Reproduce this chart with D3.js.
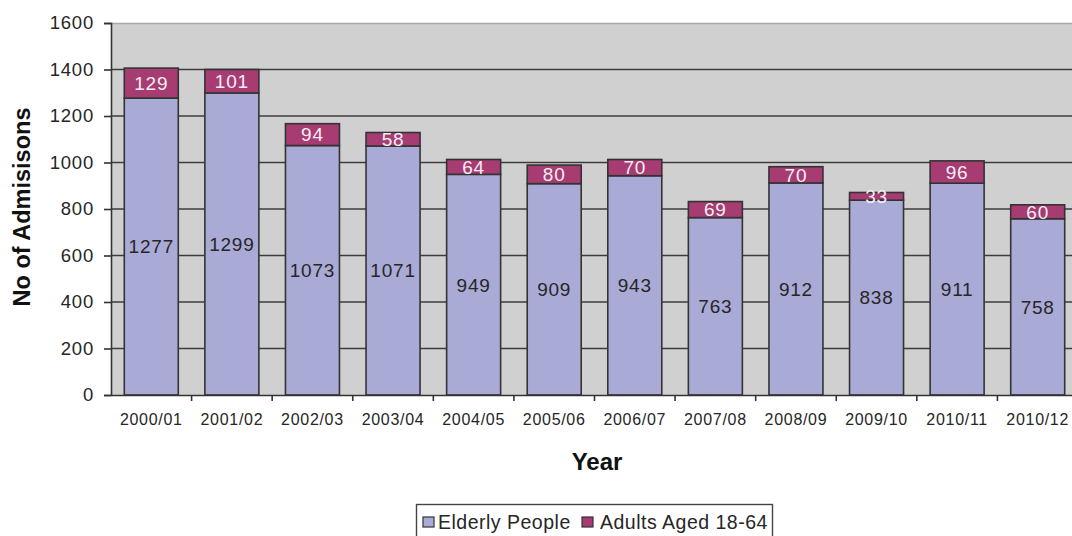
<!DOCTYPE html>
<html><head><meta charset="utf-8">
<script src="https://cdn.jsdelivr.net/npm/d3@7"></script>
<style>body{margin:0;background:#fff;} svg{display:block;font-family:"Liberation Sans",Arial,sans-serif;}</style>
</head><body>
<svg id="chart" width="1072" height="536"></svg>
<script>
const years = ["2000/01","2001/02","2002/03","2003/04","2004/05","2005/06","2006/07","2007/08","2008/09","2009/10","2010/11","2010/12"];
const elderly = [1277,1299,1073,1071,949,909,943,763,912,838,911,758];
const adults = [129,101,94,58,64,80,70,69,70,33,96,60];
const yTicks = [0,200,400,600,800,1000,1200,1400,1600];
const seriesNames = ["Elderly People","Adults Aged 18-64"];
const colors = ["#aaaad6","#a63c72"];

(function(){
const FF = "Liberation Sans, Arial, sans-serif";
const svg = d3.select("#chart");
const pL = 111, pT = 23, pB = 395, pR = 1078;
const x = d3.scaleBand().domain(years).range([pL, pR]).paddingInner(0.33).paddingOuter(0.165);
const y = d3.scaleLinear().domain([0,1600]).range([pB, pT]);

svg.append("rect").attr("x", pL).attr("y", pT).attr("width", pR-pL).attr("height", pB-pT).attr("fill", "#d0d0d0");
svg.append("line").attr("x1", pL).attr("x2", pR).attr("y1", pT+0.5).attr("y2", pT+0.5).attr("stroke", "#a8a8a8").attr("stroke-width", 1.5);

svg.append("g").selectAll("line").data(yTicks.filter(d => d > 0 && d < 1600)).join("line")
  .attr("x1", pL).attr("x2", pR).attr("y1", d => y(d)).attr("y2", d => y(d))
  .attr("stroke", "#3c3c3c").attr("stroke-width", 1.7);

const stackData = years.map((yr, i) => ({year: yr, e: elderly[i], a: adults[i]}));
const stack = d3.stack().keys(["e","a"])(stackData);

const g = svg.append("g");
stack.forEach((layer, li) => {
  g.append("g").selectAll("rect").data(layer).join("rect")
    .attr("x", d => x(d.data.year)).attr("width", x.bandwidth())
    .attr("y", d => y(d[1])).attr("height", d => y(d[0]) - y(d[1]))
    .attr("fill", colors[li]).attr("stroke", "#333").attr("stroke-width", 1.6);
});
stack.forEach((layer, li) => {
  g.append("g").selectAll("text").data(layer).join("text")
    .attr("x", d => x(d.data.year) + x.bandwidth()/2)
    .attr("y", d => (y(d[0]) + y(d[1]))/2)
    .attr("dy", "0.36em").attr("text-anchor", "middle")
    .attr("font-size", 19).attr("letter-spacing", 0.8)
    .attr("fill", li === 0 ? "#262626" : "#f4eef2")
    .text(d => d[1] - d[0]);
});

const yAxis = svg.append("g").attr("transform", `translate(${pL},0)`)
  .call(d3.axisLeft(y).tickValues(yTicks).tickFormat(d3.format("d")).tickSize(7).tickPadding(10));
yAxis.select(".domain").attr("stroke", "#333").attr("stroke-width", 1.6);
yAxis.selectAll(".tick line").attr("stroke", "#333").attr("stroke-width", 1.6);
yAxis.selectAll("text").attr("font-size", 18.5).attr("letter-spacing", 0.8).attr("fill", "#262626").attr("font-family", FF);

const xAxis = svg.append("g").attr("transform", `translate(0,${pB})`)
  .call(d3.axisBottom(x).tickSize(0).tickPadding(19));
xAxis.select(".domain").attr("stroke", "#333").attr("stroke-width", 1.6);
xAxis.selectAll("text").attr("font-size", 16).attr("letter-spacing", 0.7).attr("fill", "#262626").attr("font-family", FF);
const step = x.step();
svg.append("g").selectAll("line").data(years.slice(1)).join("line")
  .attr("x1", d => x(d) - (step - x.bandwidth())/2).attr("x2", d => x(d) - (step - x.bandwidth())/2)
  .attr("y1", pB).attr("y2", pB + 6).attr("stroke", "#333").attr("stroke-width", 1.6);

svg.append("text").attr("transform", "translate(30,207) rotate(-90)")
  .attr("text-anchor", "middle").attr("font-size", 23.5).attr("font-weight", "bold").attr("fill", "#111")
  .text("No of Admisisons");
svg.append("text").attr("x", 597).attr("y", 470).attr("text-anchor", "middle")
  .attr("font-size", 24).attr("font-weight", "bold").attr("fill", "#111").text("Year");

const lg = svg.append("g");
lg.append("rect").attr("x", 416.5).attr("y", 504.5).attr("width", 356).attr("height", 40)
  .attr("fill", "#fff").attr("stroke", "#444").attr("stroke-width", 1.4);
const legX = [423, 582];
const legTX = [438, 600];
seriesNames.forEach((n, i) => {
  lg.append("rect").attr("x", legX[i]).attr("y", 517).attr("width", 11).attr("height", 10)
    .attr("fill", colors[i]).attr("stroke", "#333").attr("stroke-width", 1.2);
  lg.append("text").attr("x", legTX[i]).attr("y", 529).attr("font-size", 19.5).attr("letter-spacing", 0.5).attr("fill", "#262626").text(n);
});
})();
</script>
</body></html>
